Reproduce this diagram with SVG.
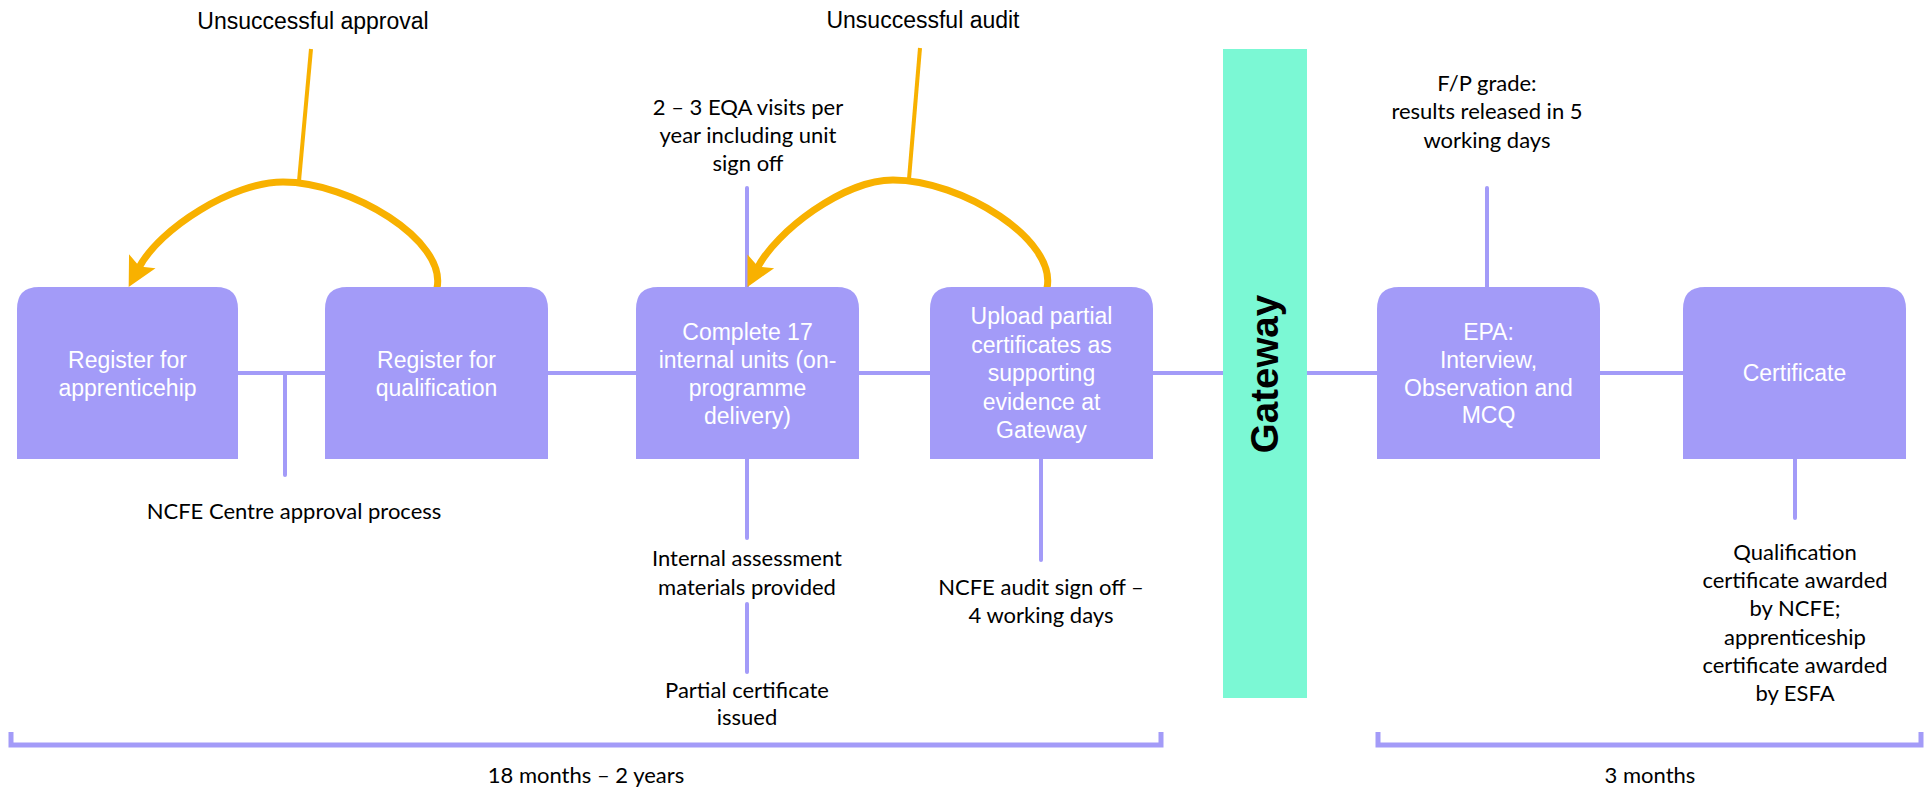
<svg xmlns="http://www.w3.org/2000/svg" width="1926" height="790" viewBox="0 0 1926 790">
<style>
.box{fill:#A39BF8;}
.btxt{font-family:"Liberation Sans",Arial,sans-serif;font-size:23px;fill:#FFFFFF;text-anchor:middle;}
.ann{font-family:Lato,"Liberation Sans",sans-serif;font-size:22px;fill:#000000;text-anchor:middle;}
.lbl{font-family:"Liberation Sans",Arial,sans-serif;font-size:23px;fill:#000000;text-anchor:middle;}
.ln{stroke:#A39BF8;stroke-width:4;fill:none;stroke-linecap:round;}
.br{stroke:#A39BF8;stroke-width:5;fill:none;}
.arc{stroke:#F8B100;stroke-width:7;fill:none;stroke-linecap:round;}
.oln{stroke:#F8B100;stroke-width:4;fill:none;}
</style>
<defs>
<marker id="stealth" viewBox="-30 -16 32 32" markerWidth="32" markerHeight="32" refX="-22" refY="0" orient="auto" markerUnits="userSpaceOnUse" overflow="visible">
<path d="M0,0 L-29,-15 L-23,0 L-29,15 Z" fill="#F8B100"/>
</marker>
</defs>
<rect width="1926" height="790" fill="#FFFFFF"/>

<g id="connectors">
<line class="ln" x1="238" y1="373" x2="325" y2="373"/>
<line class="ln" x1="285" y1="373" x2="285" y2="475"/>
<line class="ln" x1="548" y1="373" x2="636" y2="373"/>
<line class="ln" x1="859" y1="373" x2="930" y2="373"/>
<line class="ln" x1="1153" y1="373" x2="1223" y2="373"/>
<line class="ln" x1="1306" y1="373" x2="1377" y2="373"/>
<line class="ln" x1="1600" y1="373" x2="1683" y2="373"/>
<line class="ln" x1="747" y1="188" x2="747" y2="287"/>
<line class="ln" x1="747" y1="459" x2="747" y2="538"/>
<line class="ln" x1="747" y1="604" x2="747" y2="672"/>
<line class="ln" x1="1041" y1="459" x2="1041" y2="560"/>
<line class="ln" x1="1487" y1="188" x2="1487" y2="287"/>
<line class="ln" x1="1795" y1="459" x2="1795" y2="518"/>
<path class="br" d="M11 732 V745 H1161 V732"/>
<path class="br" d="M1378 732 V745 H1921 V732"/>
<line class="oln" x1="311" y1="49" x2="299" y2="181"/>
<line class="oln" x1="920" y1="48" x2="909" y2="179"/>
<path class="arc" d="M437 288 C447 240 350 182 283 182 C233 182 160 228 139 267.5" marker-end="url(#stealth)"/>
<path class="arc" d="M1047 288 C1057 240 962 180 893 180 C843 180 776 232 757.6 267.5" marker-end="url(#stealth)"/>
</g>

<g id="gateway">
<rect x="1223" y="49" width="84" height="649" fill="#7BF8D4"/>
<text transform="translate(1278,374) rotate(-90)" x="0" y="0" font-family="Liberation Sans, Arial, sans-serif" font-size="38.5" font-weight="bold" fill="#000000" text-anchor="middle">Gateway</text>
</g>

<g id="node-register-apprenticeship">
<path class="box" d="M17 459 V309 Q17 287 39 287 H216 Q238 287 238 309 V459 Z"/>
<text class="btxt" x="127.5" y="368">Register for</text>
<text class="btxt" x="127.5" y="396">apprenticehip</text>
</g>

<g id="node-register-qualification">
<path class="box" d="M325 459 V309 Q325 287 347 287 H526 Q548 287 548 309 V459 Z"/>
<text class="btxt" x="436.5" y="368">Register for</text>
<text class="btxt" x="436.5" y="396">qualification</text>
</g>

<g id="node-complete-units">
<path class="box" d="M636 459 V309 Q636 287 658 287 H837 Q859 287 859 309 V459 Z"/>
<text class="btxt" x="747.5" y="340">Complete 17</text>
<text class="btxt" x="747.5" y="368">internal units (on-</text>
<text class="btxt" x="747.5" y="396">programme</text>
<text class="btxt" x="747.5" y="424">delivery)</text>
</g>

<g id="node-upload">
<path class="box" d="M930 459 V309 Q930 287 952 287 H1131 Q1153 287 1153 309 V459 Z"/>
<text class="btxt" x="1041.5" y="324">Upload partial</text>
<text class="btxt" x="1041.5" y="353">certificates as</text>
<text class="btxt" x="1041.5" y="381">supporting</text>
<text class="btxt" x="1041.5" y="410">evidence at</text>
<text class="btxt" x="1041.5" y="438">Gateway</text>
</g>

<g id="node-epa">
<path class="box" d="M1377 459 V309 Q1377 287 1399 287 H1578 Q1600 287 1600 309 V459 Z"/>
<text class="btxt" x="1488.5" y="340">EPA:</text>
<text class="btxt" x="1488.5" y="368">Interview,</text>
<text class="btxt" x="1488.5" y="396">Observation and</text>
<text class="btxt" x="1488.5" y="423">MCQ</text>
</g>

<g id="node-certificate">
<path class="box" d="M1683 459 V309 Q1683 287 1705 287 H1884 Q1906 287 1906 309 V459 Z"/>
<text class="btxt" x="1794.5" y="381">Certificate</text>
</g>

<g id="labels">
<text class="lbl" x="313" y="29">Unsuccessful approval</text>
<text class="lbl" x="923" y="28">Unsuccessful audit</text>
<text class="ann" x="748" y="115">2 – 3 EQA visits per</text>
<text class="ann" x="748" y="143">year including unit</text>
<text class="ann" x="748" y="171">sign off</text>
<text class="ann" x="1487" y="91">F/P grade:</text>
<text class="ann" x="1487" y="119">results released in 5</text>
<text class="ann" x="1487" y="148">working days</text>
<text class="ann" x="294" y="519">NCFE Centre approval process</text>
<text class="ann" x="747" y="566">Internal assessment</text>
<text class="ann" x="747" y="595">materials provided</text>
<text class="ann" x="747" y="698">Partial certificate</text>
<text class="ann" x="747" y="725">issued</text>
<text class="ann" x="1041" y="595">NCFE audit sign off –</text>
<text class="ann" x="1041" y="623">4 working days</text>
<text class="ann" x="1795" y="560">Qualification</text>
<text class="ann" x="1795" y="588">certificate awarded</text>
<text class="ann" x="1795" y="616">by NCFE;</text>
<text class="ann" x="1795" y="645">apprenticeship</text>
<text class="ann" x="1795" y="673">certificate awarded</text>
<text class="ann" x="1795" y="701">by ESFA</text>
<text class="ann" x="586" y="783">18 months – 2 years</text>
<text class="ann" x="1650" y="783">3 months</text>
</g>
</svg>
